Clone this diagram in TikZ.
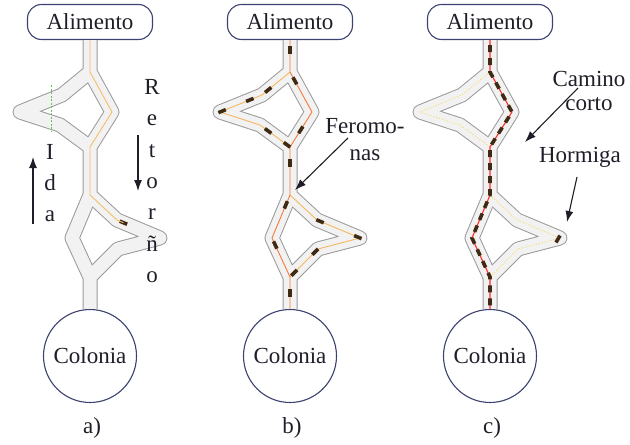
\documentclass[tikz,border=0pt]{standalone}
\usepackage{fontspec}
\setmainfont{Liberation Serif}
\usetikzlibrary{arrows.meta}

\definecolor{azul}{HTML}{3C4370}
\definecolor{texto}{HTML}{1E1E28}
\definecolor{canalborde}{HTML}{9A9A9A}
\definecolor{canalfondo}{HTML}{F2F2F2}
\definecolor{hormiga}{HTML}{3F2A14}
\definecolor{naranja}{HTML}{F4BE6A}
\definecolor{naranjarojo}{HTML}{F37A3A}
\definecolor{rojo}{HTML}{FF2B2B}
\definecolor{amarillo}{HTML}{F2DA4C}
\definecolor{verde}{HTML}{5CCB4C}

\begin{document}
\begin{tikzpicture}[
  x=1pt, y=-1pt,
  font=\fontsize{23}{27}\selectfont, text=texto,
  comida/.style={draw=azul,line width=1.1pt,fill=white,rounded corners=14pt,minimum width=125pt,minimum height=35pt,inner sep=0pt},
  nido/.style={draw=azul,line width=1.1pt,fill=white,circle,minimum size=93pt,inner sep=0pt},
  canal/.style={draw=canalfondo,line width=13pt,line join=round,
    preaction={draw=canalborde,line width=15pt,line join=round}},
  rastro/.style={line width=0.9pt,line join=round},
  ant/.style={rectangle,fill=hormiga,minimum width=8pt,minimum height=3.6pt,inner sep=0pt,sloped},
  flecha/.style={-{Latex[length=11pt,width=8pt]},line width=1.1pt,draw=texto}
]
\useasboundingbox (0,0) rectangle (630,445);

% the three panels share the same channel
\foreach \p/\dx in {a/0,b/200,c/400}{
  \begin{scope}[xshift=\dx]
    \node[comida] (alim-\p) at (90,22) {Alimento};
    \node[nido] (col-\p) at (90,356) {Colonia};
    \coordinate (J1-\p) at (90,72);
    \coordinate (R1-\p) at (112,112);
    \coordinate (J2-\p) at (90,147);
    \coordinate (L1-\p) at (62,95);
    \coordinate (L2-\p) at (20,112);
    \coordinate (L3-\p) at (60,125);
    \coordinate (J3-\p) at (90,195);
    \coordinate (R2-\p) at (117,220);
    \coordinate (R3-\p) at (160,238);
    \coordinate (R4-\p) at (118,249);
    \coordinate (L4-\p) at (72,238);
    \coordinate (J4-\p) at (90,277);
    \draw[canal] (alim-\p.south) -- (J1-\p) -- (R1-\p) -- (J2-\p)
      (J1-\p) -- (L1-\p) -- (L2-\p) -- (L3-\p) -- (J2-\p)
      (J2-\p) -- (J3-\p) -- (R2-\p) -- (R3-\p) -- (R4-\p) -- (J4-\p)
      (J3-\p) -- (L4-\p) -- (J4-\p) -- (col-\p.north);
    \node (lbl-\p) at (92,428) {\p)};
  \end{scope}
}

% a) first ant going out
\path (R2-a) -- (R3-a) node[ant,pos=0.15] (ant-a) {};
\draw[rastro,naranja] (alim-a.south) -- (J1-a) -- (R1-a) -- (J2-a) -- (J3-a) -- (R2-a) -- (ant-a.center);
\draw[verde,line width=0.9pt,dash pattern=on 2pt off 1.5pt] (51,85) -- (51,131);
\node[align=center,font=\fontsize{23}{31.4}\selectfont] (ida) at (50,183) {I\\d\\a};
\node[align=center,font=\fontsize{23}{31.3}\selectfont] (retorno) at (152,181) {R\\e\\t\\o\\r\\ñ\\o};
\coordinate (ida-ini) at (33,224);
\coordinate (ida-fin) at (33,157);
\coordinate (ret-ini) at (138,135);
\coordinate (ret-fin) at (138,191);
\draw[flecha] (ida-ini) -- (ida-fin);
\draw[flecha] (ret-ini) -- (ret-fin);

% b) pheromone on both branches
\draw[rastro,naranja!90!orange] (J1-b) -- (L1-b) -- (L2-b) -- (L3-b) -- (J2-b)
  (J3-b) -- (R2-b) -- (R3-b) -- (R4-b) -- (J4-b);
\draw[rastro,naranjarojo] (alim-b.south) -- (J1-b) -- (R1-b) -- (J2-b) -- (J3-b) -- (L4-b) -- (J4-b) -- (col-b.north);
\foreach \u/\v/\t [count=\i] in {alim-b.south/J1-b/.32, J1-b/R1-b/.22, R1-b/J2-b/.51,
    J1-b/L1-b/.78, L1-b/L2-b/.29, L1-b/L2-b/.95, L3-b/J2-b/.27, L3-b/J2-b/.9,
    J2-b/J3-b/.33, J3-b/L4-b/.23, R2-b/R3-b/.07, R2-b/R3-b/.95,
    R4-b/J4-b/.1, R4-b/J4-b/.85, L4-b/J4-b/.18, J4-b/col-b.north/.5}
  \path (\u) -- (\v) node[ant,pos=\t] (ant-b-\i) {};
\node[align=center,font=\fontsize{23}{27}\selectfont] (fero) at (365,140) {Feromo-\\nas};
\coordinate (fero-ini) at (348,138);
\coordinate (fero-fin) at (295,190);
\draw[flecha] (fero-ini) -- (fero-fin);

% c) the short way wins
\draw[rastro,amarillo,dotted] (J1-c) -- (L1-c) -- (L2-c) -- (L3-c) -- (J2-c)
  (J3-c) -- (R2-c) -- (R3-c) -- (R4-c) -- (J4-c);
\draw[rastro,rojo,line width=1.1pt] (alim-c.south) -- (J1-c) -- (R1-c) -- (J2-c) -- (J3-c) -- (L4-c) -- (J4-c) -- (col-c.north);
\draw[hormiga,line width=3.6pt,dash pattern=on 7pt off 6pt,dash phase=8pt]
  (alim-c.south) -- (J1-c) -- (R1-c) -- (J2-c) -- (J3-c) -- (L4-c) -- (J4-c) -- (col-c.north);
\node[ant,rotate=60] (ant-c) at (558,239) {};
\node[align=center,font=\fontsize{23}{23.5}\selectfont] (camino) at (589,91) {Camino\\corto};
\node (horm) at (580,157) {Hormiga};
\coordinate (cam-ini) at (578,88);
\coordinate (cam-fin) at (525,142);
\coordinate (horm-ini) at (577,177);
\coordinate (horm-fin) at (567,222);
\draw[flecha] (cam-ini) -- (cam-fin);
\draw[flecha] (horm-ini) -- (horm-fin);
\end{tikzpicture}
\end{document}
